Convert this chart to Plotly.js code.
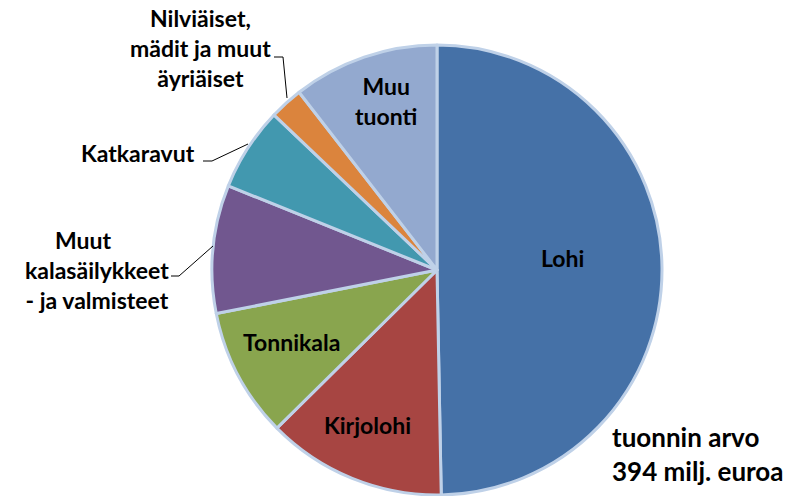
<!DOCTYPE html>
<html><head><meta charset="utf-8">
<script src="https://cdn.plot.ly/plotly-3.0.1.min.js"></script>
<style>html,body{margin:0;padding:0;background:#fff}#chart{width:803px;height:496px}</style>
</head><body><div id="chart"></div>
<script>
// Data
const labels = ["Lohi", "Kirjolohi", "Tonnikala", "Muut kalasäilykkeet - ja valmisteet", "Katkaravut", "Nilviäiset, mädit ja muut äyriäiset", "Muu tuonti"];
const displayLabels = ["Lohi", "Kirjolohi", "Tonnikala", "Muut\u00a0\u00a0\u00a0\u00a0\u00a0<br>kalasäilykkeet<br>- ja valmisteet", "Katkaravut", "Nilviäiset,<br>mädit ja muut<br>äyriäiset", "Muu<br>tuonti"];
const shares = [49.7, 12.9, 9.3, 9.2, 6.0, 2.4, 10.5];
const colors = ["#4571A7", "#A74542", "#89A54E", "#71578F", "#4298AF", "#DB843D", "#93A9CF"];
const totalText = "tuonnin arvo<br>394 milj. euroa";

const W = 803, H = 496;
const px = x => x / W;
const py = y => 1 - y / H;

// Layout positions (pixels)
const cx = 437, cy = 270, R = 225;
const labelPos = [[562, 258], [367, 425], [291, 342], [97, 270], [138, 153], [200, 48], [386, 101]];
const leaders = {
  3: [[171, 276], [179, 276], [213, 246]],
  4: [[203, 161], [212, 161], [248, 144]],
  5: [[274, 57], [283, 57], [287, 98]]
};
const FONT = "Lato, 'Open Sans', sans-serif";

const annotations = displayLabels.map((t, i) => ({
  text: t, xref: "paper", yref: "paper",
  x: px(labelPos[i][0]), y: py(labelPos[i][1]),
  xanchor: "center", yanchor: "middle",
  showarrow: false, align: "center",
  font: {family: FONT, size: 23, color: "#000", weight: "bold"}
}));
annotations.push({
  text: totalText, xref: "paper", yref: "paper",
  x: px(610), y: py(454), xanchor: "left", yanchor: "middle",
  showarrow: false, align: "left",
  font: {family: FONT, size: 26, color: "#000", weight: "bold"}
});

const shapes = Object.values(leaders).map(pts => ({
  type: "path", xref: "paper", yref: "paper",
  path: pts.map((p, k) => (k ? "L" : "M") + px(p[0]) + "," + py(p[1])).join(" "),
  line: {color: "#000", width: 1}
}));

const trace = {
  type: "pie",
  labels: labels,
  values: shares,
  sort: false,
  direction: "clockwise",
  rotation: 0,
  textinfo: "none",
  hoverinfo: "skip",
  marker: {colors: colors, line: {color: "#BFD1E8", width: 3}},
  domain: {x: [px(cx - R), px(cx + R)], y: [py(cy + R), py(cy - R)]},
  automargin: false
};

Plotly.newPlot("chart", [trace], {
  width: W, height: H,
  margin: {l: 0, r: 0, t: 0, b: 0},
  showlegend: false,
  paper_bgcolor: "#fff",
  annotations: annotations,
  shapes: shapes
}, {displayModeBar: false, staticPlot: true});
</script></body></html>
